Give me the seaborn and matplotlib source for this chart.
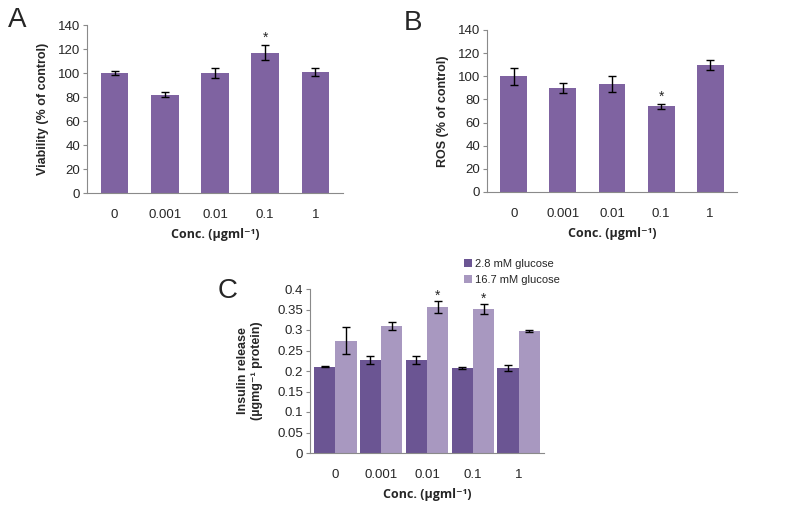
import matplotlib
matplotlib.use("Agg")
import matplotlib.pyplot as plt
import numpy as np
import pandas as pd
import seaborn as sns

# data
conc = ["0", "0.001", "0.01", "0.1", "1"]

viability = [100, 82, 100, 117, 101]
viability_err = [2, 2, 4, 6, 3.5]

ros = [100, 90, 93, 74, 110]
ros_err = [7.5, 4.5, 7, 2, 4.5]

insulin_low = [0.210, 0.227, 0.227, 0.207, 0.208]
insulin_low_err = [0.001, 0.010, 0.010, 0.003, 0.007]
insulin_high = [0.274, 0.310, 0.356, 0.351, 0.297]
insulin_high_err = [0.033, 0.010, 0.015, 0.013, 0.003]
glucose = ["2.8 mM glucose", "16.7 mM glucose"]

sns.set_style("white")
plt.rcParams["font.family"] = ["Liberation Sans", "DejaVu Sans"]

W, H = 787, 514
fig = plt.figure(figsize=(W / 100, H / 100), dpi=100)


def box(l, t, r, b):
    return [l / W, 1 - b / H, (r - l) / W, (b - t) / H]


def style(ax, ymax, step, ylabel, ypad=6):
    ax.set_ylim(0, ymax)
    ax.set_yticks(np.arange(0, ymax + step / 2, step))
    for s in ["top", "right"]:
        ax.spines[s].set_visible(False)
    for s in ["left", "bottom"]:
        ax.spines[s].set_color("#8a8a8a")
        ax.spines[s].set_linewidth(0.8)
    ax.tick_params(axis="y", left=True, length=3, color="#8a8a8a", labelsize=9.5, pad=2)
    ax.tick_params(axis="x", bottom=False, labelsize=9.5, pad=8)
    ax.set_ylabel(ylabel, fontsize=9, fontweight="bold", labelpad=ypad)
    ax.set_xlabel("Conc. (µgml⁻¹)", fontsize=9, fontweight="bold",
                  family=["Open Sans", "DejaVu Sans"], labelpad=5)


purple = "#7f63a1"

# A
axA = fig.add_axes(box(87, 25, 343, 193))
dfA = pd.DataFrame({"conc": conc, "val": viability})
sns.barplot(data=dfA, x="conc", y="val", color=purple, width=0.55,
            saturation=1, errorbar=None, linewidth=0, ax=axA)
xs = [p.get_x() + p.get_width() / 2 for p in axA.patches[:5]]
axA.errorbar(xs, viability, yerr=viability_err, fmt="none", ecolor="black",
             elinewidth=1, capsize=3)
axA.text(xs[3], viability[3] + viability_err[3] + 3, "*", ha="center", fontsize=10)
style(axA, 140, 20, "Viability (% of control)")
axA.set_xlim(-0.55, 4.55)
fig.text(8 / W, 1 - 27 / H, "A", fontsize=20)

# B
axB = fig.add_axes(box(487, 30, 737, 192))
dfB = pd.DataFrame({"conc": conc, "val": ros})
sns.barplot(data=dfB, x="conc", y="val", color=purple, width=0.55,
            saturation=1, errorbar=None, linewidth=0, ax=axB)
xs = [p.get_x() + p.get_width() / 2 for p in axB.patches[:5]]
axB.errorbar(xs, ros, yerr=ros_err, fmt="none", ecolor="black",
             elinewidth=1, capsize=3)
axB.text(xs[3], ros[3] + ros_err[3] + 3, "*", ha="center", fontsize=10)
style(axB, 140, 20, "ROS (% of control)")
axB.set_xlim(-0.55, 4.55)
fig.text(404 / W, 1 - 30 / H, "B", fontsize=20)

# C
axC = fig.add_axes(box(310, 289, 544, 453))
dfC = pd.DataFrame({
    "conc": conc * 2,
    "val": insulin_low + insulin_high,
    "glucose": [glucose[0]] * 5 + [glucose[1]] * 5,
})
sns.barplot(data=dfC, x="conc", y="val", hue="glucose", hue_order=glucose,
            palette=["#6b5593", "#a898c0"], width=0.93, gap=0,
            saturation=1, errorbar=None, linewidth=0, ax=axC)
bars = axC.patches[:10]
xs = [p.get_x() + p.get_width() / 2 for p in bars]
vals = insulin_low + insulin_high
errs = insulin_low_err + insulin_high_err
axC.errorbar(xs, vals, yerr=errs, fmt="none", ecolor="black",
             elinewidth=1, capsize=3)
for i in [7, 8]:
    axC.text(xs[i], vals[i] + errs[i] + 0.003, "*", ha="center", fontsize=10)
style(axC, 0.4, 0.05, "Insulin release\n(µgmg⁻¹ protein)", ypad=10)
axC.set_yticks(np.arange(0, 0.41, 0.05), ["0", "0.05", "0.1", "0.15", "0.2",
                                          "0.25", "0.3", "0.35", "0.4"])
axC.set_xlim(-0.55, 4.55)
axC.legend(title=None, frameon=False, fontsize=8, loc="lower left",
           bbox_to_anchor=(0.64, 1.0), handlelength=0.7, handleheight=0.7,
           handletextpad=0.3, labelspacing=0.5, borderaxespad=0)
fig.text(218 / W, 1 - 298 / H, "C", fontsize=20)

fig.savefig("out.png", dpi=100)
